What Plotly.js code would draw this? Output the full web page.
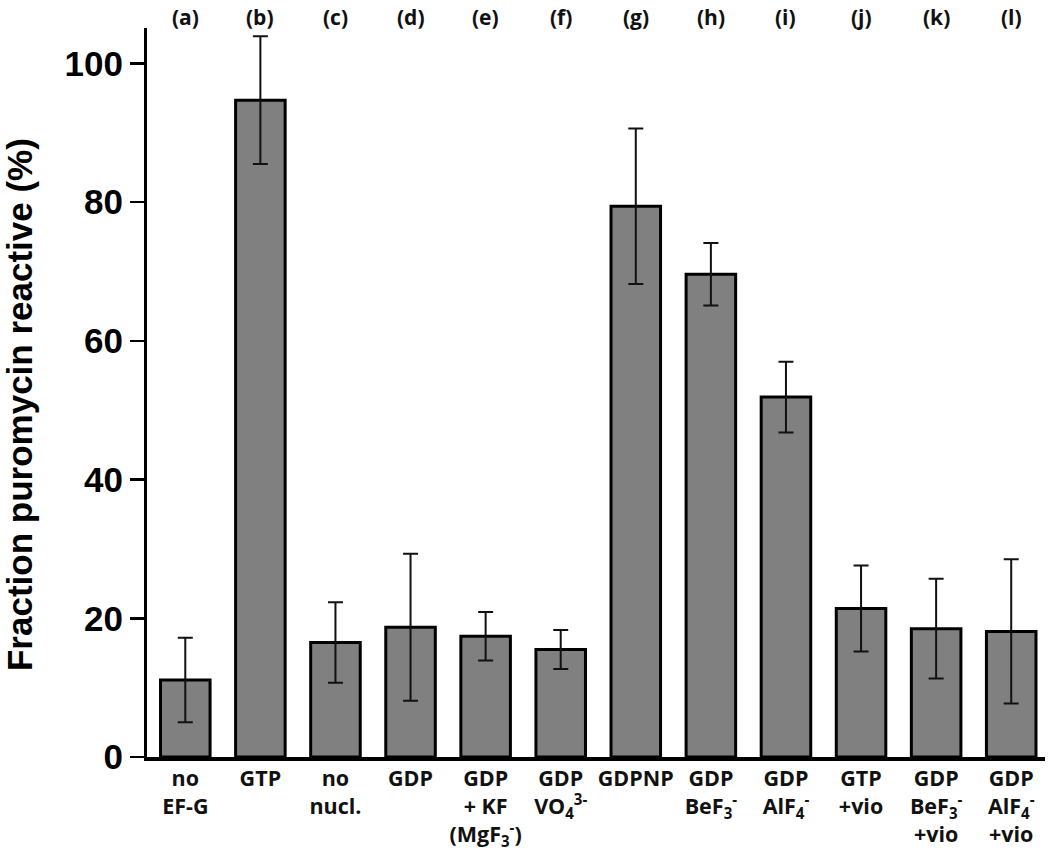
<!DOCTYPE html>
<html>
<head>
<meta charset="utf-8">
<script src="https://cdn.plot.ly/plotly-3.0.1.min.js"></script>
<style>
  html, body { margin: 0; padding: 0; background: #fff; }
  #chart { width: 1050px; height: 853px; }
</style>
</head>
<body>
<div id="chart"></div>
<script>
const letters = ['(a)', '(b)', '(c)', '(d)', '(e)', '(f)', '(g)', '(h)', '(i)', '(j)', '(k)', '(l)'];
const conditions = [
  'no<br>EF-G',
  'GTP',
  'no<br>nucl.',
  'GDP',
  'GDP<br>+ KF<br>(MgF<sub>3</sub><sup>-</sup>)',
  'GDP<br>VO<sub>4</sub><sup>3-</sup>',
  'GDPNP',
  'GDP<br>BeF<sub>3</sub><sup>-</sup>',
  'GDP<br>AlF<sub>4</sub><sup>-</sup>',
  'GTP<br>+vio',
  'GDP<br>BeF<sub>3</sub><sup>-</sup><br>+vio',
  'GDP<br>AlF<sub>4</sub><sup>-</sup><br>+vio'
];
const fraction = [11.1, 94.7, 16.5, 18.7, 17.4, 15.5, 79.4, 69.6, 51.9, 21.4, 18.5, 18.1];
const errorSD = [6.1, 9.2, 5.8, 10.6, 3.5, 2.8, 11.2, 4.5, 5.1, 6.2, 7.2, 10.4];
const yTicks = [0, 20, 40, 60, 80, 100];

const idx = conditions.map((_, i) => i);

const trace = {
  type: 'bar',
  x: idx,
  y: fraction,
  width: 0.66,
  marker: { color: '#808080', line: { color: '#000', width: 3 } },
  error_y: { type: 'data', array: errorSD, visible: true, color: '#111', thickness: 2, width: 7.5 },
  hoverinfo: 'none'
};

const annotations = letters.map((t, i) => ({
  x: i, xref: 'x', y: 1.0155, yref: 'paper',
  text: t, showarrow: false, xanchor: 'center', yanchor: 'middle',
  font: { family: 'Open Sans', size: 21, color: '#111', weight: 'bold' }
}));
annotations.push({
  x: -0.142, xref: 'paper', y: 0.4835, yref: 'paper',
  text: 'Fraction puromycin reactive (%)', textangle: -90, showarrow: false,
  xanchor: 'center', yanchor: 'middle',
  font: { family: 'Liberation Sans', size: 35, color: '#000', weight: 'bold' }
});

const layout = {
  width: 1050, height: 853,
  margin: { l: 147, r: 5, t: 28, b: 96, pad: 0 },
  paper_bgcolor: '#fff', plot_bgcolor: '#fff',
  showlegend: false,
  xaxis: {
    range: [-0.51, 11.45],
    tickmode: 'array', tickvals: idx, ticktext: conditions,
    ticks: '', showgrid: false, zeroline: false,
    showline: true, linecolor: '#000', linewidth: 3.5,
    tickfont: { family: 'Open Sans', size: 21.5, color: '#111', weight: 'bold' },
    fixedrange: true
  },
  yaxis: {
    range: [0, 105.1],
    tickmode: 'array', tickvals: yTicks, ticktext: yTicks.map(String),
    ticks: 'outside', ticklen: 14, tickwidth: 2.5, tickcolor: '#000',
    showgrid: false, zeroline: false,
    showline: true, linecolor: '#000', linewidth: 3,
    tickfont: { family: 'Liberation Sans', size: 35, color: '#000', weight: 'bold' },
    fixedrange: true
  },
  annotations: annotations
};

Plotly.newPlot('chart', [trace], layout, { displayModeBar: false, staticPlot: true });
</script>
</body>
</html>
